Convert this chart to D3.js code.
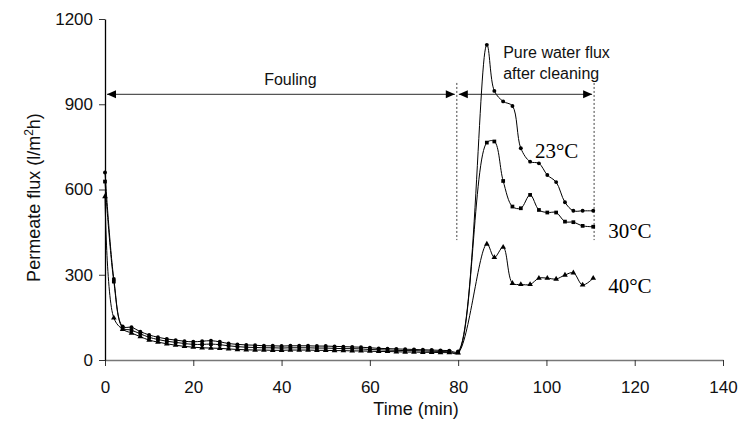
<!DOCTYPE html>
<html>
<head>
<meta charset="utf-8">
<script src="https://cdn.jsdelivr.net/npm/d3@7"></script>
<style>
  html, body { margin: 0; padding: 0; background: #fff; }
  svg { display: block; }
</style>
</head>
<body>
<svg id="chart" width="742" height="430"></svg>
<script>
// Fouling phase: sampled every 2 minutes
const foulTime = [0, 2, 4, 6, 8, 10, 12, 14, 16, 18, 20, 22, 24, 26, 28, 30, 32, 34, 36, 38,
                  40, 42, 44, 46, 48, 50, 52, 54, 56, 58, 60, 62, 64, 66, 68, 70, 72, 74, 76, 78, 80];
const foul23 = [660, 285, 118, 115, 100, 88, 80, 74, 70, 66, 64, 66, 68, 64, 58, 55, 53, 52, 50, 50,
                49, 50, 50, 50, 49, 49, 48, 47, 46, 45, 43, 41, 40, 39, 38, 37, 36, 35, 34, 33, 30];
const foul30 = [628, 276, 113, 105, 92, 80, 72, 66, 62, 58, 55, 55, 56, 54, 50, 47, 45, 44, 43, 43,
                42, 43, 43, 43, 42, 42, 41, 40, 40, 39, 37, 36, 35, 34, 33, 33, 32, 31, 30, 29, 27];
const foul40 = [575, 148, 108, 95, 82, 70, 63, 57, 52, 48, 45, 43, 42, 41, 39, 37, 36, 35, 35, 34,
                34, 35, 35, 35, 34, 34, 33, 33, 32, 32, 31, 30, 30, 29, 28, 28, 27, 27, 26, 26, 25];

// Pure water flux after cleaning
const cleanTime = [86.5, 88.2, 90.2, 92.3, 94.2, 96.3, 98.3, 100.2, 102.2, 104.2, 106.1, 108.2, 110.6];
const clean23 = [1109, 947, 910, 894, 745, 698, 692, 651, 626, 555, 525, 525, 525];
const clean30 = [765, 769, 630, 540, 534, 581, 528, 519, 519, 487, 485, 472, 469];
const clean40 = [408, 361, 397, 270, 266, 266, 288, 288, 285, 299, 307, 264, 288];

const seriesNames = ["23°C", "30°C", "40°C"];
const xTicks = [0, 20, 40, 60, 80, 100, 120, 140];
const yTicks = [0, 300, 600, 900, 1200];

// phase boundaries (min) and arrow level (l/m²h)
const foulingEnd = 79.7;
const cleaningEnd = 110.8;
const arrowLevel = 935;

const svg = d3.select("#chart");
const x = d3.scaleLinear().domain([0, 140]).range([105, 723]);
const y = d3.scaleLinear().domain([0, 1200]).range([360, 19]);

const sans = "Liberation Sans, Arial, Helvetica, sans-serif";
const serif = "Liberation Serif, Times New Roman, serif";

// Axes
const xAxis = svg.append("g")
  .attr("transform", `translate(0,${y(0)})`)
  .call(d3.axisBottom(x).tickValues(xTicks).tickFormat(d3.format("d"))
    .tickSize(6).tickPadding(15).tickSizeOuter(0));
xAxis.select(".domain").attr("stroke", "#777").attr("stroke-width", 1.6);
xAxis.selectAll(".tick line").attr("stroke", "#333");
xAxis.selectAll("text").attr("font-family", sans).attr("font-size", 17).attr("fill", "#111");

const yAxis = svg.append("g")
  .attr("transform", `translate(${x(0)},0)`)
  .call(d3.axisLeft(y).tickValues(yTicks).tickFormat(d3.format("d"))
    .tickSize(6).tickPadding(6).tickSizeOuter(0));
yAxis.select(".domain").attr("stroke", "#000").attr("stroke-width", 1.3);
yAxis.selectAll(".tick line").attr("stroke", "#333");
yAxis.selectAll("text").attr("font-family", sans).attr("font-size", 17).attr("fill", "#111");

// Axis titles
svg.append("text")
  .attr("x", (x(0) + x(140)) / 2 + 2).attr("y", 415)
  .attr("text-anchor", "middle")
  .attr("font-family", sans).attr("font-size", 18).attr("fill", "#111")
  .text("Time (min)");

const yTitle = svg.append("text")
  .attr("transform", `translate(40,${(y(0) + y(1200)) / 2 + 8}) rotate(-90)`)
  .attr("text-anchor", "middle")
  .attr("font-family", sans).attr("font-size", 18).attr("fill", "#111");
yTitle.append("tspan").text("Permeate flux (l/m");
yTitle.append("tspan").attr("font-size", 12).attr("dy", -7).text("2");
yTitle.append("tspan").attr("dy", 7).text("h)");

// Phase boundaries
[foulingEnd, cleaningEnd].forEach(t => {
  svg.append("line")
    .attr("x1", x(t)).attr("x2", x(t))
    .attr("y1", y(975)).attr("y2", y(422))
    .attr("stroke", "#444").attr("stroke-width", 1)
    .attr("stroke-dasharray", "2,2");
});

// Double-headed arrows
function arrowHead(xTip, yy, dir) {
  const len = 9, half = 4;
  svg.append("path")
    .attr("d", `M${xTip},${yy} L${xTip - dir * len},${yy - half} L${xTip - dir * len},${yy + half} Z`)
    .attr("fill", "#000");
}
function doubleArrow(t0, t1) {
  const x0 = x(t0) + 2, x1 = x(t1) - 2, yy = y(arrowLevel);
  svg.append("line").attr("x1", x0).attr("x2", x1).attr("y1", yy).attr("y2", yy)
    .attr("stroke", "#555").attr("stroke-width", 1.3);
  arrowHead(x0, yy, -1);
  arrowHead(x1, yy, 1);
}
doubleArrow(0, foulingEnd);
doubleArrow(foulingEnd, cleaningEnd);

svg.append("text")
  .attr("x", x(42)).attr("y", y(968))
  .attr("text-anchor", "middle")
  .attr("font-family", sans).attr("font-size", 16).attr("fill", "#111")
  .text("Fouling");
svg.append("text")
  .attr("x", x(90.2)).attr("y", y(1063))
  .attr("font-family", sans).attr("font-size", 16).attr("fill", "#111")
  .text("Pure water flux");
svg.append("text")
  .attr("x", x(90.2)).attr("y", y(988))
  .attr("font-family", sans).attr("font-size", 16).attr("fill", "#111")
  .text("after cleaning");

// Data series
const allTime = foulTime.concat(cleanTime);
const series = [
  { name: seriesNames[0], values: foul23.concat(clean23), marker: "circle" },
  { name: seriesNames[1], values: foul30.concat(clean30), marker: "square" },
  { name: seriesNames[2], values: foul40.concat(clean40), marker: "triangle" }
];

const line = d3.line()
  .x(d => x(d.t)).y(d => y(d.v))
  .curve(d3.curveCatmullRom.alpha(0.5));

const symbolType = { circle: d3.symbolCircle, square: d3.symbolSquare, triangle: d3.symbolTriangle };

series.forEach(s => {
  const pts = allTime.map((t, i) => ({ t, v: s.values[i] }));
  svg.append("path")
    .datum(pts)
    .attr("d", line)
    .attr("fill", "none")
    .attr("stroke", "#000")
    .attr("stroke-width", 1);
  svg.append("g").selectAll("path")
    .data(pts)
    .join("path")
    .attr("transform", d => `translate(${x(d.t)},${y(d.v)})`)
    .attr("d", d3.symbol().type(symbolType[s.marker]).size(s.marker === "circle" ? 12 : 14))
    .attr("fill", "#000");
});

// Series labels
const labelPos = [
  { t: 97.4, v: 711 },
  { t: 114, v: 430 },
  { t: 114, v: 236 }
];
seriesNames.forEach((n, i) => {
  svg.append("text")
    .attr("x", x(labelPos[i].t)).attr("y", y(labelPos[i].v))
    .attr("font-family", serif).attr("font-size", 21).attr("fill", "#000")
    .text(n);
});
</script>
</body>
</html>
